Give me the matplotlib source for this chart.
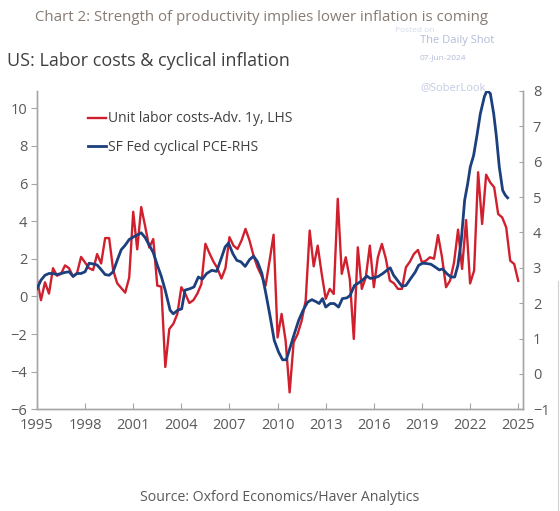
import numpy as np
import matplotlib
matplotlib.use("Agg")
import matplotlib.pyplot as plt

plt.rcParams['font.family'] = ['Open Sans', 'DejaVu Sans']

##############################################################################
# Data
##############################################################################

# Unit labor costs, advanced 1 year (LHS), quarterly 1995Q1 .. 2025Q1
ulc_start = 1995.0
ulc = [0.9, -0.2, 0.75, 0.15,
       1.5, 1.1, 1.2, 1.65,
       1.5, 1.05, 1.25, 2.1,
       1.8, 1.5, 1.4, 2.25,
       1.75, 3.1, 3.1, 1.4,
       0.7, 0.45, 0.2, 1.0,
       4.5, 2.5, 4.75, 3.7,
       2.6, 3.05, 0.57, 0.52,
       -3.75, -1.73, -1.46, -0.93,
       0.49, 0.13, -0.35, -0.2,
       0.15, 0.66, 2.8, 2.3,
       1.85, 1.5, 0.95, 1.5,
       3.15, 2.7, 2.52, 2.97,
       3.59, 2.97, 2.17, 1.55,
       1.1, 0.57, 1.9, 3.28,
       -2.18, -0.93, -2.35, -5.1,
       -2.44, -2.0, -1.29, -0.23,
       3.5, 1.6, 2.7, 1.2,
       -0.13, 0.4, 0.13, 5.19,
       1.2, 2.08, 0.93, -2.26,
       2.61, 0.4, 1.02, 2.7,
       0.49, 2.08, 2.79, 2.0,
       0.84, 0.7, 0.4, 0.4,
       1.55, 1.85, 2.26, 2.47,
       1.81, 1.9, 2.08, 2.0,
       3.26, 2.08, 0.49, 0.84,
       1.81, 3.55, 1.46, 4.06,
       0.69, 1.37, 6.6, 3.85,
       6.47, 6.06, 5.8, 4.38,
       4.2, 3.67, 1.9, 1.72,
       0.83]
ulc_dates = ulc_start + 0.25 * np.arange(len(ulc))

# SF Fed cyclical PCE (RHS)
pce_dates = [1995.0, 1995.25, 1995.5, 1995.75, 1996.0, 1996.25, 1996.5, 1996.75,
             1997.0, 1997.25, 1997.5, 1997.75, 1998.0, 1998.25, 1998.5, 1998.75,
             1999.0, 1999.25, 1999.5, 1999.75, 2000.0, 2000.25, 2000.5, 2000.75,
             2001.0, 2001.25, 2001.5, 2001.75, 2002.0, 2002.25, 2002.5, 2002.75,
             2003.0, 2003.3, 2003.5, 2003.77, 2004.02, 2004.23, 2004.54, 2004.79,
             2005.06, 2005.31, 2005.58, 2005.9, 2006.2, 2006.52, 2006.73, 2006.94,
             2007.21, 2007.46, 2007.71, 2007.98, 2008.25, 2008.5, 2008.75, 2009.02,
             2009.27, 2009.54, 2009.79, 2010.06, 2010.31, 2010.54, 2010.79, 2011.04,
             2011.31, 2011.58, 2011.87, 2012.14, 2012.45, 2012.59, 2012.8, 2013.0,
             2013.28, 2013.53, 2013.8, 2014.04, 2014.32, 2014.52, 2014.79, 2015.04,
             2015.29, 2015.56, 2015.77, 2016.04, 2016.29, 2016.56, 2016.81, 2017.02,
             2017.23, 2017.5, 2017.75, 2018.0, 2018.27, 2018.58, 2018.79, 2019.04,
             2019.31, 2019.56, 2019.83, 2020.08, 2020.29, 2020.56, 2020.81, 2021.04,
             2021.24, 2021.45, 2021.66, 2021.85, 2022.01, 2022.22, 2022.43, 2022.64,
             2022.89, 2023.05, 2023.26, 2023.47, 2023.63, 2023.82, 2024.03, 2024.2,
             2024.34]
pce = [2.41, 2.65, 2.79, 2.84, 2.84, 2.81, 2.84, 2.87,
       2.89, 2.76, 2.84, 2.84, 2.89, 3.13, 3.11, 3.08,
       2.95, 2.81, 2.79, 2.89, 3.21, 3.51, 3.64, 3.80,
       3.87, 3.93, 3.99, 3.85, 3.64, 3.43, 3.08, 2.76,
       2.36, 1.80, 1.70, 1.80, 1.84, 2.37, 2.41, 2.46,
       2.74, 2.68, 2.84, 2.93, 2.90, 3.31, 3.59, 3.70,
       3.40, 3.21, 3.17, 3.04, 3.23, 3.33, 3.17, 2.84,
       2.27, 1.61, 0.95, 0.62, 0.40, 0.40, 0.76, 1.13,
       1.51, 1.79, 2.03, 2.10, 2.03, 1.99, 2.13, 1.89,
       1.99, 1.99, 1.89, 2.13, 2.15, 2.22, 2.50, 2.57,
       2.65, 2.77, 2.70, 2.72, 2.76, 2.84, 2.93, 3.00,
       2.79, 2.63, 2.48, 2.50, 2.68, 2.88, 3.07, 3.13,
       3.12, 3.10, 3.02, 2.94, 2.97, 2.83, 2.74, 2.74,
       3.07, 3.78, 4.91, 5.38, 5.85, 6.18, 6.75, 7.36,
       7.84, 8.01, 7.93, 7.36, 6.75, 5.85, 5.19, 5.05,
       4.98]

x_ticks = [1995, 1998, 2001, 2004, 2007, 2010, 2013, 2016, 2019, 2022, 2025]
left_ticks = [-6, -4, -2, 0, 2, 4, 6, 8, 10]
right_ticks = [-1, 0, 1, 2, 3, 4, 5, 6, 7, 8]

RED = '#d0202e'
BLUE = '#1c3f7e'
GREY = '#a6a6a6'
TXT = '#595959'

##############################################################################
# Plot
##############################################################################

fig = plt.figure(figsize=(5.6, 5.11), dpi=100)
ax = fig.add_axes([0.066, 0.199, 0.868, 0.623])
ax2 = ax.twinx()

l1, = ax.plot(ulc_dates, ulc, color=RED, lw=1.7, zorder=2,
              label='Unit labor costs-Adv. 1y, LHS')
l2, = ax2.plot(pce_dates, pce, color=BLUE, lw=2.0, zorder=3,
               label='SF Fed cyclical PCE-RHS')

ax.set_xlim(1995, 2025.3)
ax.set_ylim(-6, 10.92)
ax2.set_ylim(-1, 8)
ax.set_xticks(x_ticks)
ax.set_yticks(left_ticks)
ax2.set_yticks(right_ticks)

for a in (ax, ax2):
    a.spines['top'].set_visible(False)
    for s in ('left', 'right', 'bottom'):
        a.spines[s].set_color(GREY)
        a.spines[s].set_linewidth(1.0)
    a.set_facecolor('none')

ax.tick_params(axis='x', direction='in', length=4, color=GREY,
               labelcolor=TXT, labelsize=10.5, pad=6)
ax.tick_params(axis='y', direction='out', length=4, color=GREY,
               labelcolor=TXT, labelsize=10.5, pad=3)
ax2.tick_params(axis='y', direction='in', length=3, color=GREY,
                labelcolor=TXT, labelsize=10.5, pad=7)

leg = ax.legend(handles=[l1, l2], loc='upper left', bbox_to_anchor=(0.08, 0.975),
                frameon=False, fontsize=10, handlelength=1.3, handletextpad=0.1,
                labelspacing=1.0, labelcolor='#404040')

# titles and notes
fig.text(0.467, 0.965, 'Chart 2: Strength of productivity implies lower inflation is coming',
         ha='center', va='center', fontsize=10.8, color='#877b73')
fig.text(0.012, 0.88, 'US: Labor costs & cyclical inflation',
         ha='left', va='center', fontsize=13, color='#404040')
fig.text(0.5, 0.027, 'Source: Oxford Economics/Haver Analytics',
         ha='center', va='center', fontsize=10.2, color=TXT)

# watermark
wm = '#b3bbd9'
fig.text(0.705, 0.94, 'Posted on', fontsize=6, color='#d5d9ea', ha='left', va='center')
fig.text(0.75, 0.921, 'The Daily Shot', fontsize=8, color=wm, ha='left', va='center')
fig.text(0.75, 0.887, '07-Jun-2024', fontsize=6, color=wm, ha='left', va='center')
fig.text(0.75, 0.828, '@SoberLook', fontsize=8, color='#c5cbe3', ha='left', va='center')

fig.add_artist(plt.Line2D([0.996, 0.996], [0.0, 0.45], transform=fig.transFigure,
                          color='#d0d0d0', lw=0.8))

fig.savefig('out.png', dpi=100)
